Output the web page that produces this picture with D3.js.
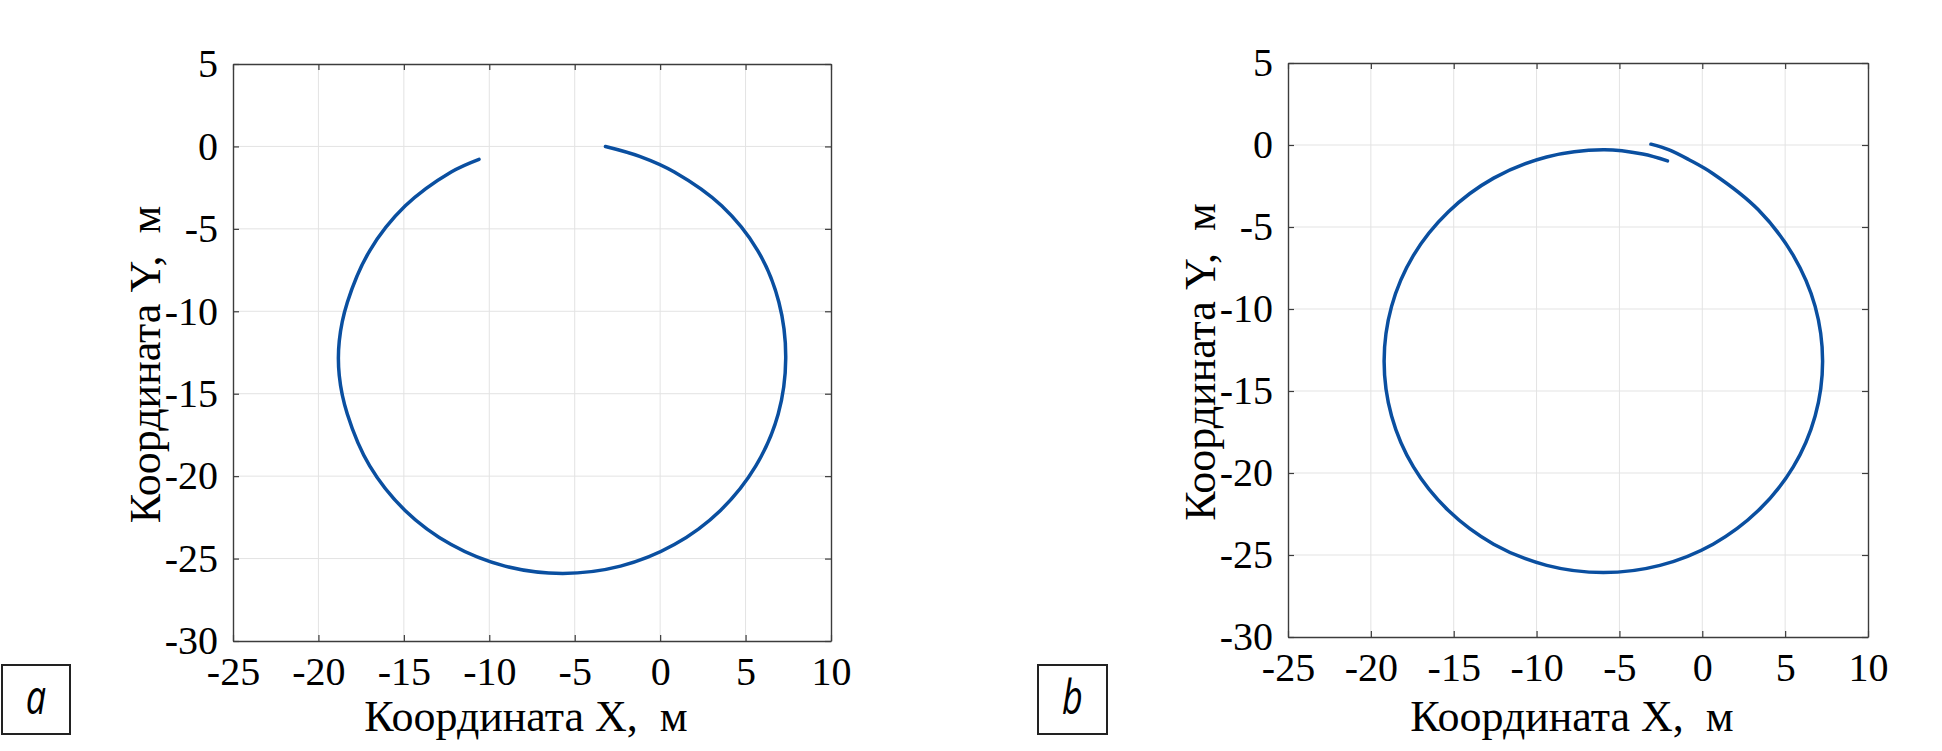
<!DOCTYPE html>
<html>
<head>
<meta charset="utf-8">
<script src="https://cdn.jsdelivr.net/npm/d3@7"></script>
<style>
  body { margin: 0; background: #fff; }
  svg { display: block; }
</style>
</head>
<body>
<svg id="chart" width="1942" height="751"></svg>
<script>
// tick values
var xTicks = [-25, -20, -15, -10, -5, 0, 5, 10];
var yTicks = [5, 0, -5, -10, -15, -20, -25, -30];
var xTitle = "Координата X,  м";
var yTitle = "Координата Y,  м";
var panelLabels = ["a", "b"];

// trajectory a (x, y in metres)
var trajA = [
  [-3.2, 0.0], [-1.2, -0.6], [0.83, -1.55], [3.6, -3.6], [5.7, -6.3], [6.95, -9.45],
  [7.35, -12.85], [6.91, -16.23], [5.6, -19.38], [3.53, -22.08], [0.83, -24.15],
  [-2.32, -25.46], [-5.7, -25.9], [-9.08, -25.46], [-12.23, -24.15], [-14.93, -22.08],
  [-17.0, -19.38], [-18.31, -16.23], [-18.78, -13.9], [-18.78, -11.8], [-18.31, -9.47],
  [-17.0, -6.33], [-14.93, -3.62], [-12.23, -1.55], [-10.6, -0.78]
];

// trajectory b
var trajB = [
  [-3.1, 0.05], [-2.0, -0.3], [-0.8, -0.9], [0.65, -1.75], [3.38, -3.95],
  [5.49, -6.73], [6.81, -9.84], [7.26, -13.18], [6.81, -16.52], [5.49, -19.63],
  [3.38, -22.29], [0.65, -24.34], [-2.55, -25.63], [-5.97, -26.07], [-9.39, -25.63],
  [-12.59, -24.34], [-15.32, -22.29], [-17.43, -19.63], [-18.75, -16.52], [-19.2, -13.18],
  [-18.75, -9.84], [-17.43, -6.73], [-15.32, -4.07], [-12.59, -2.02], [-9.39, -0.73],
  [-5.97, -0.29], [-3.6, -0.55], [-2.1, -0.97]
];

var panels = [
  {left: 233, right: 831, top: 64, bottom: 641, data: trajA, label: panelLabels[0],
   box: {x: 2, y: 665, w: 68, h: 69}},
  {left: 1288, right: 1868, top: 63, bottom: 637, data: trajB, label: panelLabels[1],
   box: {x: 1038, y: 665, w: 69, h: 69}}
];

var svg = d3.select("#chart");
var serif = "'Liberation Serif', 'Times New Roman', serif";

function drawPanel(p){
    var x = d3.scaleLinear().domain([-25, 10]).range([p.left, p.right]);
    var y = d3.scaleLinear().domain([-30, 5]).range([p.bottom, p.top]);
    var g = svg.append("g");

    // grid
    g.selectAll("line.gx")
        .data(xTicks.slice(1, -1))
        .enter().append("line")
        .attr("x1", function(d){ return x(d); })
        .attr("x2", function(d){ return x(d); })
        .attr("y1", p.top).attr("y2", p.bottom)
        .attr("stroke", "#e3e3e3").attr("stroke-width", 1);
    g.selectAll("line.gy")
        .data(yTicks.slice(1, -1))
        .enter().append("line")
        .attr("y1", function(d){ return y(d); })
        .attr("y2", function(d){ return y(d); })
        .attr("x1", p.left).attr("x2", p.right)
        .attr("stroke", "#e3e3e3").attr("stroke-width", 1);

    // axes, inward ticks on all sides
    var fmt = function(d){ return String(d); };
    var axB = d3.axisBottom(x).tickValues(xTicks).tickSizeInner(-6).tickSizeOuter(0).tickPadding(16).tickFormat(fmt);
    var axT = d3.axisTop(x).tickValues(xTicks).tickSizeInner(-6).tickSizeOuter(0).tickFormat("");
    var axL = d3.axisLeft(y).tickValues(yTicks).tickSizeInner(-6).tickSizeOuter(0).tickPadding(15).tickFormat(fmt);
    var axR = d3.axisRight(y).tickValues(yTicks).tickSizeInner(-6).tickSizeOuter(0).tickFormat("");

    [[axB, "translate(0," + p.bottom + ")"], [axT, "translate(0," + p.top + ")"],
     [axL, "translate(" + p.left + ",0)"], [axR, "translate(" + p.right + ",0)"]].forEach(function(a){
        var ag = g.append("g").attr("transform", a[1]).call(a[0]);
        ag.select(".domain").attr("stroke", "#3c3c3c").attr("stroke-width", 1.4);
        ag.selectAll(".tick line").attr("stroke", "#3c3c3c").attr("stroke-width", 1.2);
        ag.selectAll("text").attr("font-family", serif).attr("font-size", 40).attr("fill", "#000");
    });

    // trajectory
    var line = d3.line()
        .x(function(d){ return x(d[0]); })
        .y(function(d){ return y(d[1]); })
        .curve(d3.curveCatmullRom.alpha(0.5));
    g.append("path")
        .datum(p.data)
        .attr("d", line)
        .attr("fill", "none")
        .attr("stroke", "#0a4fa0")
        .attr("stroke-width", 3.5)
        .attr("stroke-linecap", "round")
        .attr("stroke-linejoin", "round");

    // axis titles
    g.append("text")
        .attr("x", (p.left + p.right) / 2 - 6)
        .attr("y", 731)
        .attr("text-anchor", "middle")
        .style("white-space", "pre")
        .attr("font-family", serif).attr("font-size", 44)
        .text(xTitle);
    g.append("text")
        .attr("transform", "translate(" + (p.left - 73) + "," + ((p.top + p.bottom) / 2 + 12) + ") rotate(-90)")
        .attr("text-anchor", "middle")
        .style("white-space", "pre")
        .attr("font-family", serif).attr("font-size", 44)
        .text(yTitle);

    // panel label box
    g.append("rect")
        .attr("x", p.box.x).attr("y", p.box.y)
        .attr("width", p.box.w).attr("height", p.box.h)
        .attr("fill", "none").attr("stroke", "#222").attr("stroke-width", 2);
    g.append("text")
        .attr("transform", "translate(" + (p.box.x + p.box.w / 2) + "," + (p.box.y + p.box.h / 2 + 14) + ") scale(0.75,1)")
        .attr("text-anchor", "middle")
        .attr("font-family", "'Open Sans', 'Liberation Sans', sans-serif")
        .attr("font-style", "italic")
        .attr("font-size", 48)
        .text(p.label);
}

panels.forEach(drawPanel);
</script>
</body>
</html>
